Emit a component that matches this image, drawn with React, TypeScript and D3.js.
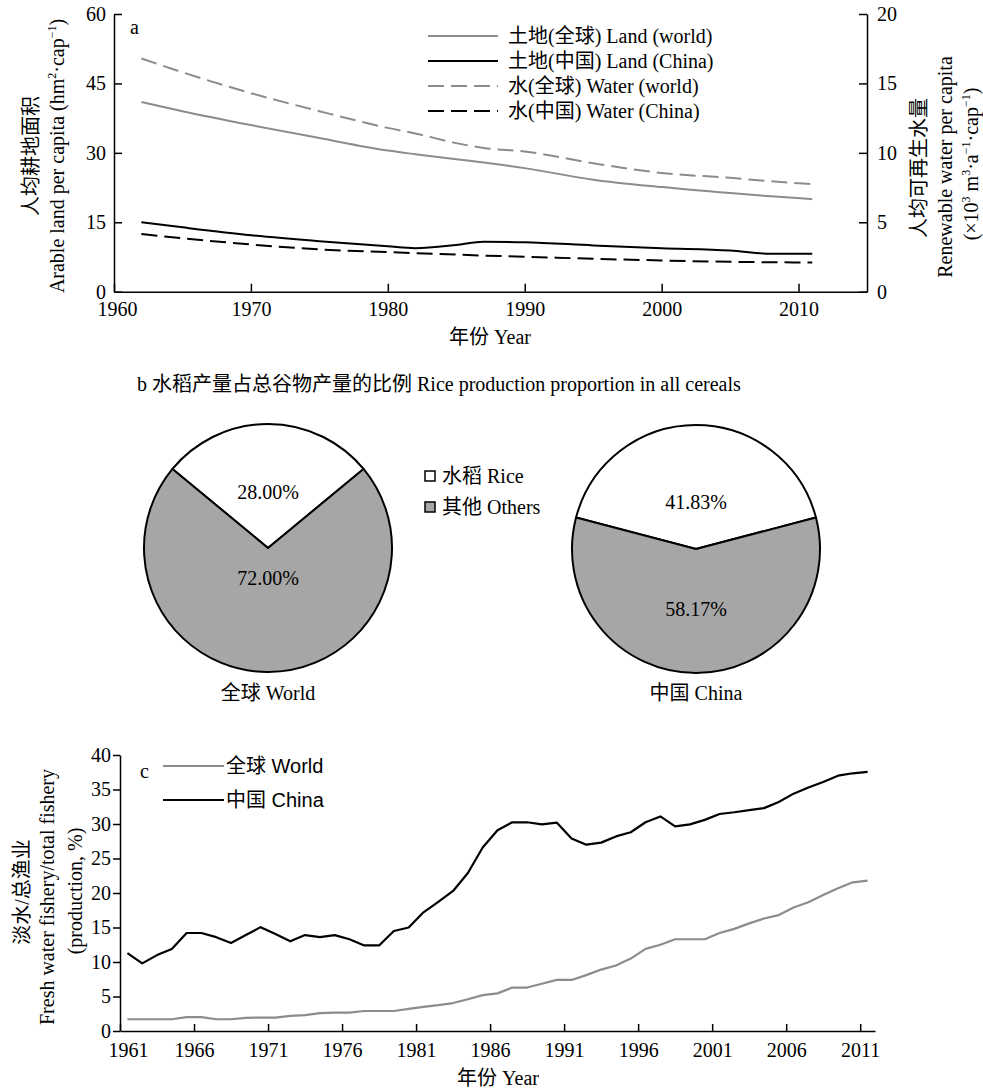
import React, { useEffect, useRef } from 'react'
import * as d3 from 'd3'

// ---- data: panel a (land on left axis, water on right axis) ----
const resYears = [1962, 1965, 1970, 1975, 1980, 1982, 1985, 1987, 1990, 1995, 2000, 2005, 2008, 2011]
const landWorld = [41.0, 39.0, 36.0, 33.2, 30.5, 29.7, 28.6, 27.9, 26.7, 24.2, 22.6, 21.3, 20.6, 20.0]
const landChina = [15.0, 13.9, 12.2, 10.9, 9.8, 9.4, 10.1, 10.8, 10.7, 10.0, 9.4, 8.9, 8.2, 8.2]
const waterWorld = [16.8, 15.8, 14.3, 13.0, 11.8, 11.4, 10.7, 10.35, 10.1, 9.25, 8.55, 8.2, 7.95, 7.75]
const waterChina = [4.15, 3.85, 3.4, 3.05, 2.85, 2.78, 2.67, 2.6, 2.52, 2.37, 2.25, 2.15, 2.12, 2.1]
const aLeftTicks = [0, 15, 30, 45, 60]
const aRightTicks = [0, 5, 10, 15, 20]
const aYearTicks = [1960, 1970, 1980, 1990, 2000, 2010]

// ---- data: panel b (share of rice in cereal production, %) ----
const pieNames = ['全球 World', '中国 China']
const riceShare = [28.0, 41.83]
const otherShare = [72.0, 58.17]

// ---- data: panel c (fresh water fishery / total fishery, %) ----
const fishYears = d3.range(1961, 2012)
const fishWorld = [
  1.7, 1.7, 1.7, 1.7, 2.0, 2.0, 1.7, 1.7, 1.9, 1.95,
  1.95, 2.2, 2.3, 2.6, 2.65, 2.65, 2.9, 2.9, 2.9, 3.2,
  3.5, 3.75, 4.05, 4.6, 5.2, 5.45, 6.3, 6.3, 6.85, 7.4,
  7.4, 8.1, 8.9, 9.5, 10.5, 11.9, 12.5, 13.3, 13.3, 13.3,
  14.2, 14.8, 15.6, 16.3, 16.8, 17.9, 18.65, 19.7, 20.7, 21.55,
  21.8,
]
const fishChina = [
  11.3, 9.8, 11.0, 11.9, 14.2, 14.2, 13.6, 12.75, 13.9, 15.05,
  14.05, 13.0, 13.9, 13.6, 13.9, 13.3, 12.4, 12.4, 14.5, 15.0,
  17.2, 18.7, 20.3, 22.9, 26.6, 29.1, 30.25, 30.25, 29.95, 30.2,
  27.9, 27.0, 27.3, 28.2, 28.8, 30.25, 31.1, 29.65, 29.95, 30.6,
  31.45, 31.7, 32.0, 32.3, 33.2, 34.4, 35.3, 36.1, 37.0, 37.35,
  37.55,
]
const cYearTicks = [1961, 1966, 1971, 1976, 1981, 1986, 1991, 1996, 2001, 2006, 2011]
const cTicks = [0, 5, 10, 15, 20, 25, 30, 35, 40]

const FONT = "'Liberation Serif', 'Times New Roman', 'Noto Sans CJK SC', serif"
const SANS = "'Liberation Sans', Arial, 'Noto Sans CJK SC', sans-serif"
const GRAY = '#8c8c8c'
const PIE_GRAY = '#a6a6a6'
const FS = 20

type Part = [string, boolean?]

// text with superscripts, optionally rotated -90 around its centre
function richText(parent: any, parts: Part[], x: number, y: number, rotate = false, size = FS) {
  const t = parent.append('text')
    .attr('font-size', size)
    .attr('text-anchor', rotate ? 'middle' : 'start')
    .attr('transform', rotate ? `translate(${x + size * 0.35},${y}) rotate(-90)` : `translate(${x},${y})`)
  let up = false
  parts.forEach(([s, sup]) => {
    const ts = t.append('tspan').text(s)
    if (sup) {
      ts.attr('font-size', size * 0.6)
      if (!up) { ts.attr('dy', -size * 0.4); up = true }
    } else if (up) {
      ts.attr('dy', size * 0.4); up = false
    }
  })
  return t
}

function styleAxis(g: any) {
  g.attr('font-size', FS).attr('font-family', FONT)
  g.select('.domain').attr('stroke-width', 1.5)
  g.selectAll('.tick line').attr('stroke-width', 1.5)
  g.selectAll('.tick text').attr('fill', '#000')
  return g
}

function drawPanelA(svg: any) {
  const x = d3.scaleLinear().domain([1960, 2015]).range([114, 867])
  const yL = d3.scaleLinear().domain([0, 60]).range([291.7, 14])
  const yR = d3.scaleLinear().domain([0, 20]).range([291.7, 14])
  const g = svg.append('g')

  styleAxis(g.append('g').attr('transform', `translate(0,${yL(0)})`)
    .call(d3.axisBottom(x).tickValues(aYearTicks).tickFormat(d3.format('d'))
      .tickSizeInner(-8).tickSizeOuter(0).tickPadding(10)))
    .selectAll('.tick text').attr('dx', (d: number) => (d === 1960 ? 3 : 0))
  styleAxis(g.append('g').attr('transform', `translate(${x(1960)},0)`)
    .call(d3.axisLeft(yL).tickValues(aLeftTicks).tickSizeInner(-8).tickSizeOuter(0).tickPadding(8)))
  styleAxis(g.append('g').attr('transform', `translate(${x(2015)},0)`)
    .call(d3.axisRight(yR).tickValues(aRightTicks).tickSizeInner(-8).tickSizeOuter(0).tickPadding(10)))

  const series = [
    { vals: landWorld, y: yL, color: GRAY, dash: null, label: '土地(全球) Land (world)' },
    { vals: landChina, y: yL, color: '#000', dash: null, label: '土地(中国) Land (China)' },
    { vals: waterWorld, y: yR, color: GRAY, dash: '16,7', label: '水(全球) Water (world)' },
    { vals: waterChina, y: yR, color: '#000', dash: '16,7', label: '水(中国) Water (China)' },
  ]
  series.forEach((s, i) => {
    const line = d3.line<number>().x((_, j) => x(resYears[j])).y(d => s.y(d)).curve(d3.curveMonotoneX)
    g.append('path').attr('d', line(s.vals)).attr('fill', 'none')
      .attr('stroke', s.color).attr('stroke-width', 2).attr('stroke-dasharray', s.dash)
    // legend
    const ly = 36 + i * 25
    g.append('line').attr('x1', 428).attr('x2', 498).attr('y1', ly).attr('y2', ly)
      .attr('stroke', s.color).attr('stroke-width', 2).attr('stroke-dasharray', s.dash)
    g.append('text').attr('x', 508).attr('y', ly + 7).attr('font-size', FS).text(s.label)
  })

  g.append('text').attr('x', 130).attr('y', 34).attr('font-size', FS).text('a')
  g.append('text').attr('x', 490).attr('y', 344).attr('text-anchor', 'middle').attr('font-size', FS).text('年份 Year')

  richText(g, [['人均耕地面积']], 31, 156, true)
  richText(g, [['Arable land per capita (hm'], ['2', true], ['·cap'], ['−1', true], [')']], 57, 156, true)
  richText(g, [['人均可再生水量']], 919, 168, true)
  richText(g, [['Renewable water per capita']], 945, 167, true)
  richText(g, [['(×10'], ['3', true], [' m'], ['3', true], ['·a'], ['−1', true], ['·cap'], ['−1', true], [')']], 971, 164, true)
}

function drawPanelB(svg: any) {
  const g = svg.append('g')
  g.append('text').attr('x', 137).attr('y', 391).attr('font-size', FS)
    .text('b 水稻产量占总谷物产量的比例 Rice production proportion in all cereals')

  const r = 124
  const centers = [[268, 548], [696, 549]]
  const labelR = [[0.45, 0.24], [0.38, 0.48]]
  const arc = d3.arc<any>().innerRadius(0).outerRadius(r)

  pieNames.forEach((name, k) => {
    const start = -riceShare[k] / 100 * Math.PI
    const pie = d3.pie<number>().sort(null).startAngle(start).endAngle(start + 2 * Math.PI)
    const arcs = pie([riceShare[k], otherShare[k]])
    const pg = g.append('g').attr('transform', `translate(${centers[k][0]},${centers[k][1]})`)
    pg.selectAll('path').data(arcs).enter().append('path')
      .attr('d', arc)
      .attr('fill', (_: any, i: number) => (i === 0 ? '#fff' : PIE_GRAY))
      .attr('stroke', '#000').attr('stroke-width', 2).attr('stroke-linejoin', 'round')
    pg.selectAll('text.pct').data(arcs).enter().append('text')
      .attr('class', 'pct')
      .attr('text-anchor', 'middle').attr('font-size', FS)
      .attr('x', (d: any, i: number) => Math.sin((d.startAngle + d.endAngle) / 2) * r * labelR[k][i])
      .attr('y', (d: any, i: number) => -Math.cos((d.startAngle + d.endAngle) / 2) * r * labelR[k][i] + 7)
      .text((d: any) => d.value.toFixed(2) + '%')
    g.append('text').attr('x', centers[k][0]).attr('y', 700).attr('text-anchor', 'middle')
      .attr('font-size', FS).text(name)
  })

  // legend
  const items = [['水稻 Rice', '#fff'], ['其他 Others', PIE_GRAY]]
  items.forEach(([label, fill], i) => {
    const ly = 476 + i * 31
    g.append('rect').attr('x', 425).attr('y', ly - 5).attr('width', 10).attr('height', 10)
      .attr('fill', fill).attr('stroke', '#000').attr('stroke-width', 1.5)
    g.append('text').attr('x', 442).attr('y', ly + 7).attr('font-size', FS).text(label)
  })
}

function drawPanelC(svg: any) {
  const x = d3.scaleLinear().domain([1961, 2012]).range([120, 875])
  const y = d3.scaleLinear().domain([0, 40]).range([1031, 755])
  const g = svg.append('g')

  styleAxis(g.append('g').attr('transform', `translate(0,${y(0)})`)
    .call(d3.axisBottom(x).tickValues(cYearTicks).tickFormat(d3.format('d'))
      .tickSizeInner(-7).tickSizeOuter(0).tickPadding(12)))
    .selectAll('.tick text').attr('dx', (d: number) => (d === 1961 ? 8 : 0))
  styleAxis(g.append('g').attr('transform', `translate(${x(1961)},0)`)
    .call(d3.axisLeft(y).tickValues(cTicks).tickSizeInner(7).tickSizeOuter(0).tickPadding(2)))

  const line = d3.line<number>().x((_, i) => x(fishYears[i] + 0.5)).y(d => y(d))
  g.append('path').attr('d', line(fishWorld)).attr('fill', 'none')
    .attr('stroke', GRAY).attr('stroke-width', 2.2).attr('stroke-linejoin', 'round')
  g.append('path').attr('d', line(fishChina)).attr('fill', 'none')
    .attr('stroke', '#000').attr('stroke-width', 2.2).attr('stroke-linejoin', 'round')

  const leg = [['全球 World', GRAY], ['中国 China', '#000']]
  leg.forEach(([label, color], i) => {
    const ly = 766 + i * 34
    g.append('line').attr('x1', 163).attr('x2', 224).attr('y1', ly).attr('y2', ly)
      .attr('stroke', color).attr('stroke-width', 2.2)
    g.append('text').attr('x', 226).attr('y', ly + 7).attr('font-size', FS)
      .attr('font-family', SANS).text(label)
  })

  g.append('text').attr('x', 140).attr('y', 778).attr('font-size', FS).text('c')
  g.append('text').attr('x', 498).attr('y', 1085).attr('text-anchor', 'middle').attr('font-size', FS).text('年份 Year')

  richText(g, [['淡水/总渔业']], 22, 892, true)
  richText(g, [['Fresh water fishery/total fishery']], 47, 897, true)
  richText(g, [['(production, %)']], 75, 891, true)
}

export default function App() {
  const ref = useRef<SVGSVGElement>(null)

  useEffect(() => {
    const svg = d3.select(ref.current)
    svg.selectAll('*').remove()
    drawPanelA(svg)
    drawPanelB(svg)
    drawPanelC(svg)
  }, [])

  return (
    <svg
      ref={ref}
      width={983}
      height={1089}
      fontFamily={FONT}
      style={{ position: 'absolute', left: 0, top: 0, background: '#fff' }}
    />
  )
}
